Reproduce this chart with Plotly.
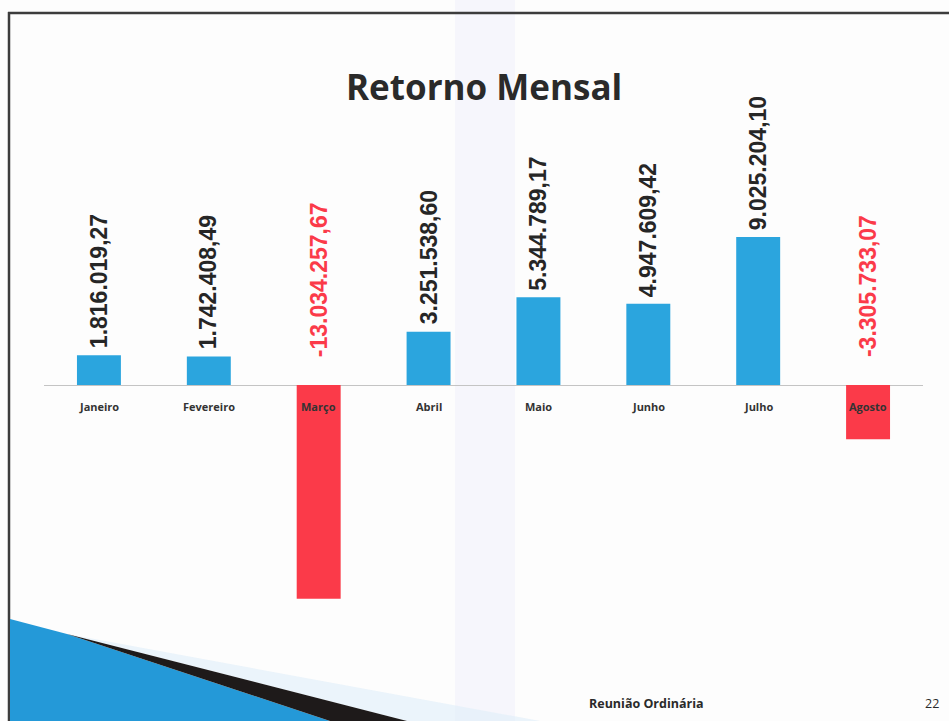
import plotly.graph_objects as go

# ---- data ----
months = ["Janeiro", "Fevereiro", "Março", "Abril", "Maio", "Junho", "Julho", "Agosto"]
values = [1816019.27, 1742408.49, -13034257.67, 3251538.60,
          5344789.17, 4947609.42, 9025204.10, -3305733.07]
title_text = "Retorno Mensal"
footer_text = "Reunião Ordinária"
page_number = "22"

BLUE = "#2ba5de"
RED = "#fb3a49"
W, H = 949, 721
L, R, T, B = 44, 26, 100, 71


def fmt_br(v):
    s = f"{v:,.2f}"
    return s.replace(",", "X").replace(".", ",").replace("X", ".")


def px(x):
    return (x - L) / (W - L - R)


def py(y):
    return 1 - (y - T) / (H - T - B)


colors = [BLUE if v >= 0 else RED for v in values]

fig = go.Figure()
fig.add_trace(go.Bar(x=months, y=values, marker=dict(color=colors, line=dict(width=0)),
                     width=0.4, hoverinfo="x+y"))

LABEL_FONT = "Liberation Sans, Arial"
SLIDE_FONT = "Open Sans, Lato"

annotations = []
for m, v in zip(months, values):
    if v >= 0:
        annotations.append(dict(x=m, y=v, xref="x", yref="y", text=f"<b>{fmt_br(v)}</b>", textangle=-90,
                                showarrow=False, yanchor="bottom", xanchor="center", yshift=5,
                                font=dict(family=LABEL_FONT, size=23, color="#262626")))
    else:
        annotations.append(dict(x=m, y=0, xref="x", yref="y", text=f"<b>{fmt_br(v)}</b>", textangle=-90,
                                showarrow=False, yanchor="bottom", xanchor="center", yshift=26,
                                font=dict(family=LABEL_FONT, size=23, color=RED)))
    annotations.append(dict(x=m, y=0, xref="x", yref="y", text=f"<b>{m}</b>", showarrow=False,
                            yanchor="middle", xanchor="center", yshift=-21,
                            font=dict(family=SLIDE_FONT, size=11, color="#333333")))

annotations.append(dict(x=px(484), y=py(86), xref="paper", yref="paper", text=f"<b>{title_text}</b>",
                        showarrow=False, xanchor="center", yanchor="middle",
                        font=dict(family=SLIDE_FONT, size=35, color="#2a2a2a")))
annotations.append(dict(x=px(646), y=py(703), xref="paper", yref="paper", text=f"<b>{footer_text}</b>",
                        showarrow=False, xanchor="center", yanchor="middle",
                        font=dict(family=SLIDE_FONT, size=12.5, color="#2a2a2a")))
annotations.append(dict(x=px(932), y=py(703), xref="paper", yref="paper", text=page_number,
                        showarrow=False, xanchor="center", yanchor="middle",
                        font=dict(family=SLIDE_FONT, size=12.5, color="#2a2a2a")))


def poly(pts):
    d = "M " + " L ".join(f"{px(x)},{py(y)}" for x, y in pts) + " Z"
    return d


shapes = [
    # faint scanner band
    dict(type="rect", xref="paper", yref="paper", x0=px(455), x1=px(515), y0=py(0), y1=py(721),
         fillcolor="#f6f6fc", line=dict(width=0), layer="below"),
    # slide border
    dict(type="line", xref="paper", yref="paper", x0=px(8), x1=px(949), y0=py(13), y1=py(13),
         line=dict(color="#3c3c3c", width=2.5)),
    dict(type="line", xref="paper", yref="paper", x0=px(9), x1=px(9), y0=py(12), y1=py(721),
         line=dict(color="#3c3c3c", width=2.5)),
    # decoration
    dict(type="path", xref="paper", yref="paper", path=poly([(67, 634), (540, 721), (407, 721)]),
         fillcolor="#e3f0fa", line=dict(width=0), opacity=0.7),
    dict(type="path", xref="paper", yref="paper", path=poly([(10, 619), (67, 634), (330, 721), (10, 721)]),
         fillcolor="#2499d8", line=dict(width=0)),
    dict(type="path", xref="paper", yref="paper", path=poly([(67, 634), (407, 721), (330, 721)]),
         fillcolor="#1e1a1a", line=dict(width=0)),
]

fig.update_layout(
    width=W, height=H,
    margin=dict(l=L, r=R, t=T, b=B),
    paper_bgcolor="#fdfdfd", plot_bgcolor="rgba(0,0,0,0)",
    showlegend=False,
    bargap=0.6,
    xaxis=dict(showticklabels=False, showgrid=False, zeroline=False, showline=False,
               range=[-0.5, 7.5]),
    yaxis=dict(range=[-16.16e6, 17.38e6], showgrid=False, showticklabels=False,
               zeroline=True, zerolinecolor="#c4c4c4", zerolinewidth=1, showline=False),
    annotations=annotations,
    shapes=shapes,
)

fig.write_html("out.html", config={"displayModeBar": False},
               post_script="document.body.style.margin='0';document.body.style.padding='0';document.body.style.overflow='hidden';")
